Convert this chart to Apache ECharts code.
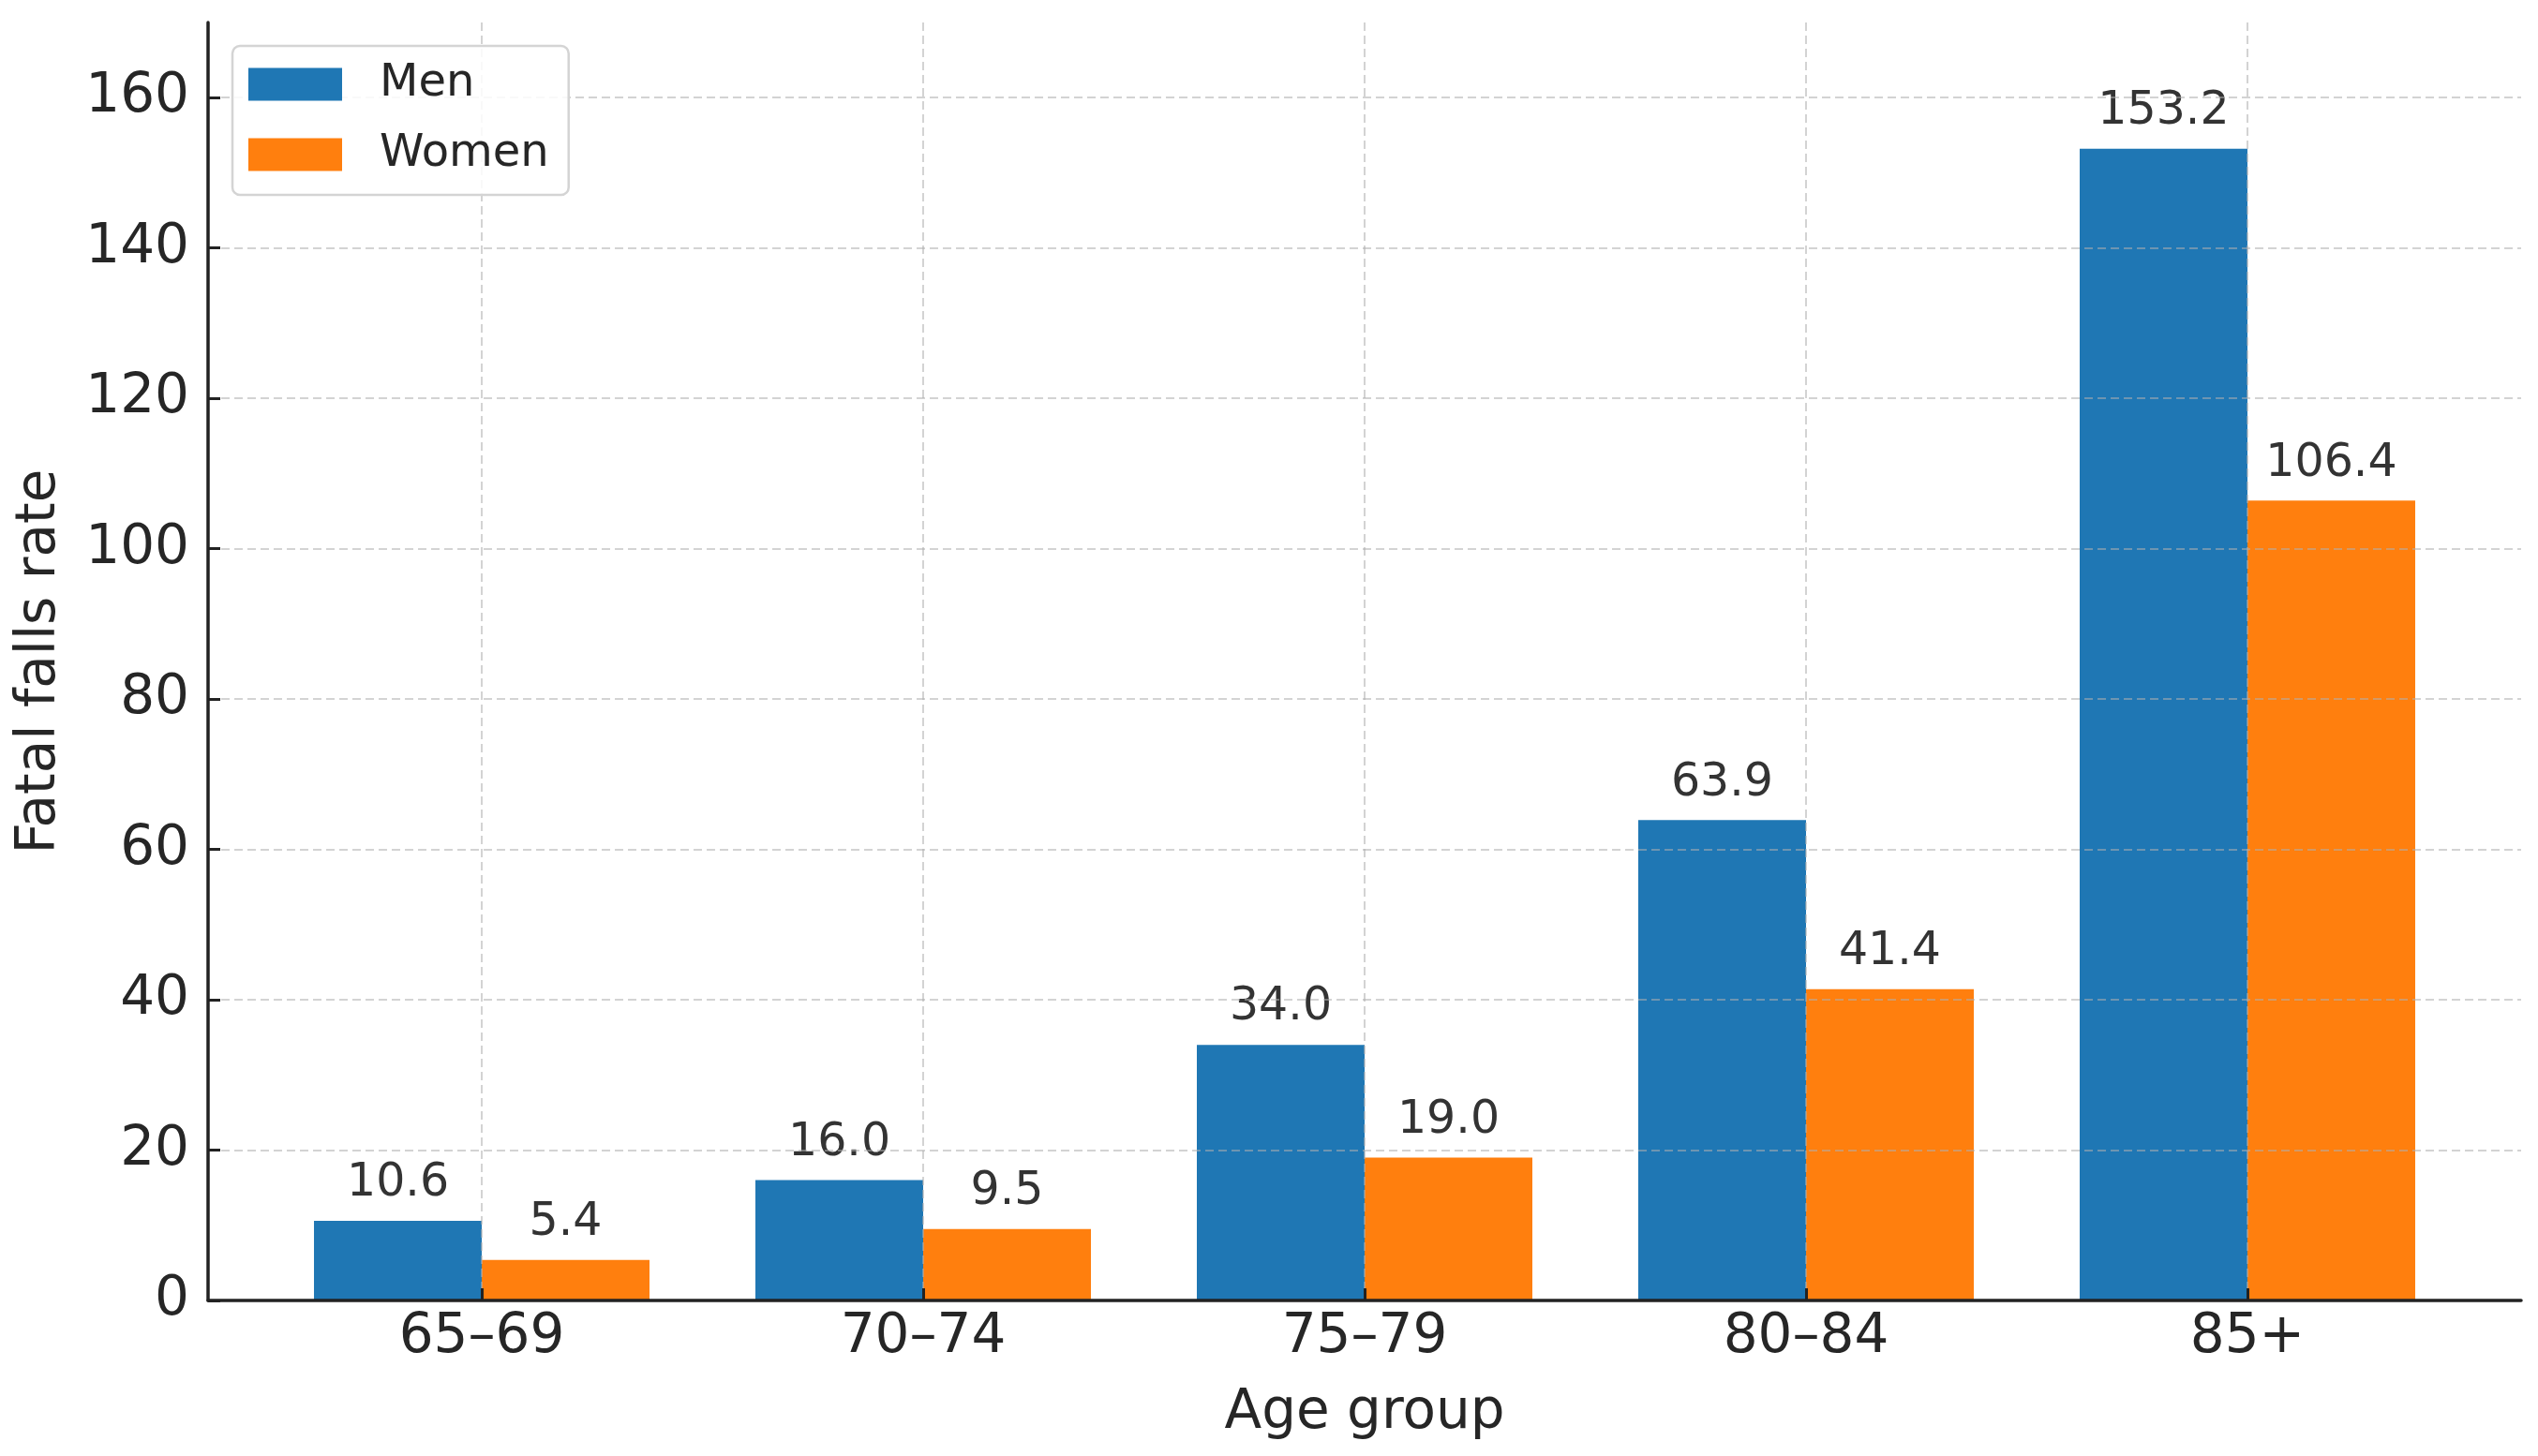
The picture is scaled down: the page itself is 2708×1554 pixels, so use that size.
<!DOCTYPE html>
<html>
<head>
<meta charset="utf-8">
<script src="https://cdn.jsdelivr.net/npm/echarts@6/dist/echarts.min.js"></script>
<style>
html,body{margin:0;padding:0;background:#fff;}
#chart{width:2708px;height:1554px;}
</style>
</head>
<body>
<div id="chart"></div>
<script>
const categories = ['65–69', '70–74', '75–79', '80–84', '85+'];
const menValues = [10.6, 16.0, 34.0, 63.9, 153.2];
const womenValues = [5.4, 9.5, 19.0, 41.4, 106.4];
const yTicks = [0, 20, 40, 60, 80, 100, 120, 140, 160];
const xTicks = categories.map((c, i) => i);

const FONT = 'DejaVu Sans';
const chart = echarts.init(document.getElementById('chart'), null, {renderer: 'canvas'});

const gridLine = {show: true, lineStyle: {color: 'rgba(175,175,175,0.55)', width: 2, type: [9, 5]}};

chart.setOption({
  animation: false,
  backgroundColor: '#fff',
  textStyle: {fontFamily: FONT},
  grid: {left: 222, right: 18, top: 24, bottom: 166, containLabel: false},
  legend: {
    orient: 'vertical',
    left: 248, top: 49,
    padding: [17, 21, 19, 17],
    itemWidth: 100, itemHeight: 35, itemGap: 27,
    icon: 'rect',
    backgroundColor: 'rgba(255,255,255,0.85)',
    borderColor: '#d4d4d4', borderWidth: 2.5, borderRadius: 8,
    textStyle: {fontFamily: FONT, fontSize: 48, color: '#262626', padding: [0, 0, 0, 35]},
    data: ['Men', 'Women']
  },
  xAxis: {
    type: 'value',
    min: -0.62, max: 4.62,
    z: 3,
    name: 'Age group',
    nameLocation: 'middle',
    nameGap: 92,
    nameTextStyle: {fontFamily: FONT, fontSize: 58, color: '#262626'},
    axisLine: {show: true, onZero: false, lineStyle: {color: '#222', width: 3.5}},
    axisTick: {show: true, inside: true, length: 13, customValues: xTicks, lineStyle: {color: '#222', width: 3}},
    axisLabel: {customValues: xTicks, margin: 11, fontFamily: FONT, fontSize: 58, color: '#262626',
      formatter: v => categories[Math.round(v)] || ''},
    splitLine: Object.assign({customValues: xTicks}, gridLine)
  },
  yAxis: {
    type: 'value',
    min: 0, max: 170, interval: 20,
    z: 3,
    name: 'Fatal falls rate',
    nameLocation: 'middle',
    nameGap: 150,
    nameTextStyle: {fontFamily: FONT, fontSize: 58, color: '#262626'},
    axisLine: {show: true, onZero: false, lineStyle: {color: '#222', width: 3.5}},
    axisTick: {show: true, inside: true, length: 13, customValues: yTicks, lineStyle: {color: '#222', width: 3}},
    axisLabel: {customValues: yTicks, margin: 20, fontFamily: FONT, fontSize: 58, color: '#262626'},
    splitLine: Object.assign({customValues: yTicks}, gridLine)
  },
  series: [
    {
      name: 'Men', type: 'bar',
      data: menValues.map((v, i) => [i, v]),
      barWidth: 179, barGap: '0%',
      itemStyle: {color: '#1f77b4'},
      label: {show: true, position: 'top', distance: 15, fontFamily: FONT, fontSize: 49, color: '#333',
        formatter: p => p.value[1].toFixed(1)}
    },
    {
      name: 'Women', type: 'bar',
      data: womenValues.map((v, i) => [i, v]),
      barWidth: 179, barGap: '0%',
      itemStyle: {color: '#ff7f0e'},
      label: {show: true, position: 'top', distance: 15, fontFamily: FONT, fontSize: 49, color: '#333',
        formatter: p => p.value[1].toFixed(1)}
    }
  ]
});
</script>
</body>
</html>
